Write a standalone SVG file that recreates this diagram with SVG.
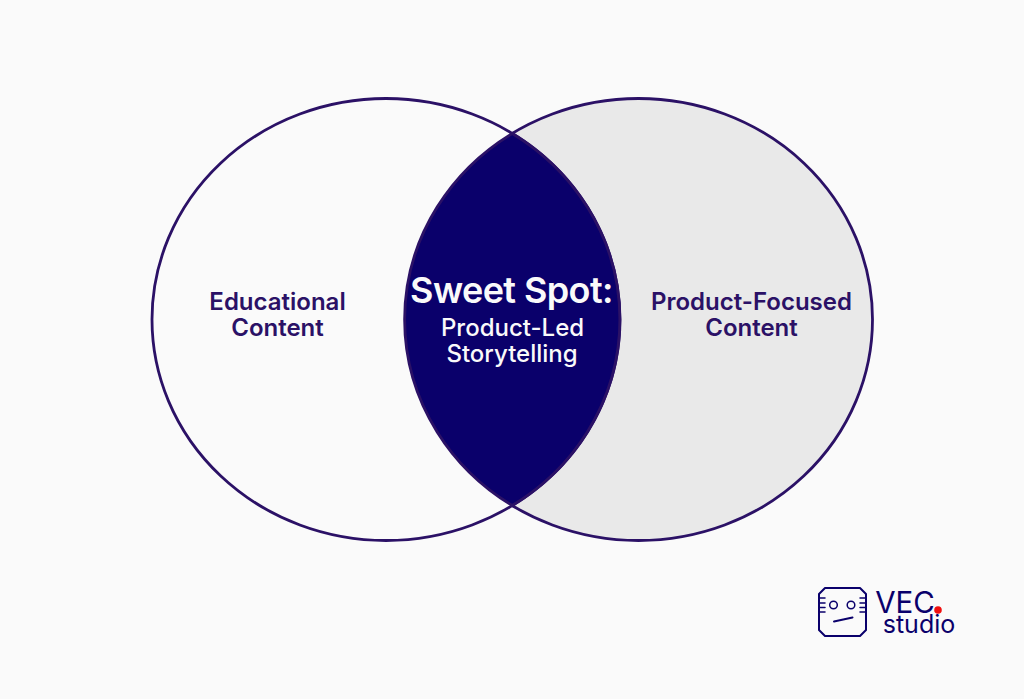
<svg xmlns="http://www.w3.org/2000/svg" width="1024" height="699" viewBox="0 0 1024 699">
<style>
.c{stroke:#2b1166;stroke-width:2.800;}
text{font-family:Inter,"Liberation Sans",sans-serif;text-anchor:middle;}
.d{fill:#2b1166;font-size:24px;font-weight:600;}
.w{fill:#fafafa;}
.m{fill:none;stroke:#0a006b;stroke-width:2;stroke-linejoin:round;stroke-linecap:round;}
.t{stroke-width:1.500;}
</style>
<rect width="1024" height="699" fill="#fafafa"/>
<g id="right-circle"><ellipse class="c" cx="638.5" cy="319.5" rx="234" ry="221" fill="#e9e9e9"/></g>
<g id="left-circle"><ellipse class="c" cx="386" cy="319.5" rx="234" ry="221" fill="#fafafa"/></g>
<g id="overlap"><path class="c" d="M512.25 133.5A234 221 0 0 1 512.25 505.5A234 221 0 0 1 512.25 133.5Z" fill="#0a006b"/>
<text class="w" x="511.500" y="303" font-size="36" font-weight="600" letter-spacing="-0.600">Sweet Spot:</text>
<text class="w" x="512.500" y="336" font-size="24" font-weight="500">Product-Led</text>
<text class="w" x="512" y="362" font-size="24" font-weight="500">Storytelling</text></g>
<g id="educational"><text class="d" x="277.500" y="310">Educational</text><text class="d" x="277.500" y="336">Content</text></g>
<g id="product-focused"><text class="d" x="751.500" y="310">Product-Focused</text><text class="d" x="751.500" y="336">Content</text></g>
<g id="logo">
<path class="m" d="M825 588H860L866 594V630L860 636H825L819 630V594Z"/>
<path class="m t" d="M819 598H825M819 603H825M819 607.500H825M819 612H825M860 598H866M860 603H866M860 607.500H866M860 612H866"/>
<circle class="m t" cx="833.500" cy="605" r="3.800"/><circle class="m t" cx="851" cy="605" r="3.800"/>
<path class="m" d="M834 621.500L852.500 617.500"/>
<text x="905" y="612.500" font-size="29.500" fill="#0a006b">VEC</text>
<text x="919" y="633" font-size="25" fill="#0a006b">studio</text>
<circle cx="938" cy="610" r="3.800" fill="#f01010"/>
</g>
</svg>
